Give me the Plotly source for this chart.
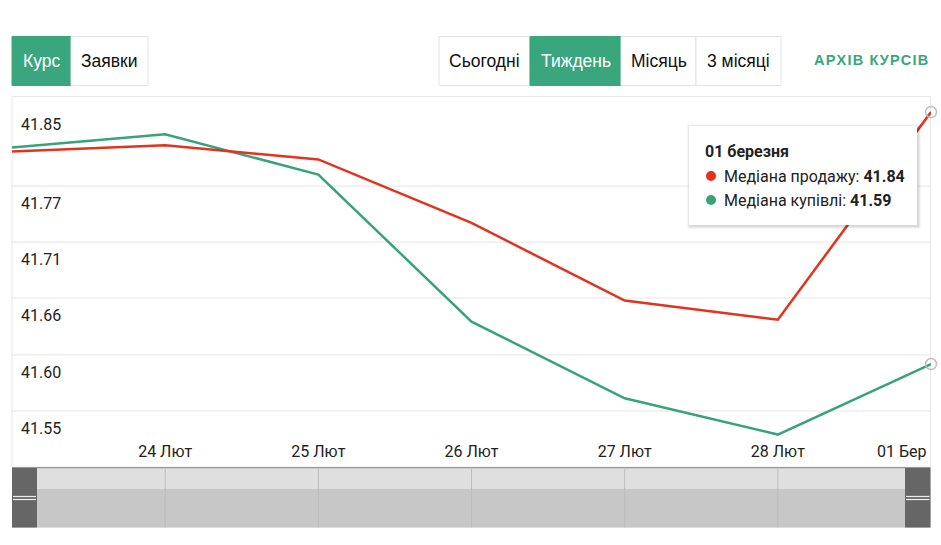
import plotly.graph_objects as go

# ---------------- data ----------------
dates = ["2025-02-23", "2025-02-24", "2025-02-25", "2025-02-26",
         "2025-02-27", "2025-02-28", "2025-03-01"]
sell_median = [41.801, 41.807, 41.793, 41.730, 41.653, 41.634, 41.84]
buy_median = [41.805, 41.818, 41.778, 41.632, 41.556, 41.520, 41.59]
sell_name = "Медіана продажу"
buy_name = "Медіана купівлі"

y_tick_vals = [41.5434, 41.599, 41.6555, 41.711, 41.7666, 41.845]
y_tick_text = ["41.55", "41.60", "41.66", "41.71", "41.77", "41.85"]
x_tick_vals = dates[1:]
x_tick_text = ["24 Лют", "25 Лют", "26 Лют", "27 Лют", "28 Лют", "01 Бер"]
tooltip_title = "01 березня"

left_tabs = ["Курс", "Заявки"]
period_tabs = ["Сьогодні", "Тиждень", "Місяць", "3 місяці"]
archive_text = "АРХІВ КУРСІВ"

# ---------------- style ----------------
W, H = 941, 545
RED = "#e2331d"
GREEN = "#37a37b"
BTN_GREEN = "#3aa67d"
GRID = "#e6e6e6"
TXT = "#222222"
FS = 16


def px(x):
    return x / W


def py(y):
    return 1 - y / H


fig = go.Figure()
fig.add_trace(go.Scatter(x=dates, y=buy_median, mode="lines", name=buy_name,
                         line=dict(color=GREEN, width=2.5), hoverinfo="skip"))
fig.add_trace(go.Scatter(x=dates, y=sell_median, mode="lines", name=sell_name,
                         line=dict(color=RED, width=2.5), hoverinfo="skip"))
# hover markers on the last point
fig.add_trace(go.Scatter(x=[dates[-1], dates[-1]], y=[sell_median[-1], buy_median[-1]],
                         mode="markers", hoverinfo="skip", cliponaxis=False,
                         marker=dict(symbol="circle-open", size=11, color="#bdbdbd",
                                     line=dict(color="#bdbdbd", width=1.5))))

shapes = []
ann = []

# chart border
shapes.append(dict(type="rect", xref="paper", yref="paper", x0=px(12), x1=px(930.5),
                   y0=py(467), y1=py(96.5), line=dict(color="#e8e8e8", width=1),
                   fillcolor="rgba(0,0,0,0)", layer="below"))
# grid lines (the top tick has no line)
for v in y_tick_vals[:-1]:
    shapes.append(dict(type="line", xref="paper", yref="y", x0=px(12), x1=px(930.5),
                       y0=v, y1=v, line=dict(color=GRID, width=1), layer="below"))

# ---------------- navigator ----------------
nav_top, nav_mid, nav_bot = 469, 489, 527.5
shapes.append(dict(type="rect", xref="paper", yref="paper", x0=px(12), x1=px(930.5),
                   y0=py(nav_mid), y1=py(nav_top), fillcolor="#dfdfdf", line=dict(width=0)))
shapes.append(dict(type="rect", xref="paper", yref="paper", x0=px(12), x1=px(930.5),
                   y0=py(nav_bot), y1=py(nav_mid), fillcolor="#c6c7c6", line=dict(width=0)))
shapes.append(dict(type="line", xref="paper", yref="paper", x0=px(12), x1=px(930.5),
                   y0=py(467.8), y1=py(467.8), line=dict(color="#999999", width=1.5)))
shapes.append(dict(type="line", xref="paper", yref="paper", x0=px(12), x1=px(930.5),
                   y0=py(527.5), y1=py(527.5), line=dict(color="#dddddd", width=1)))
for d in dates[1:-1]:
    shapes.append(dict(type="line", xref="x", yref="paper", x0=d, x1=d,
                       y0=py(nav_bot), y1=py(nav_top), line=dict(color="#bdbdbd", width=1)))
for hx0, hx1 in [(12, 37), (905, 930.5)]:
    shapes.append(dict(type="rect", xref="paper", yref="paper", x0=px(hx0), x1=px(hx1),
                       y0=py(nav_bot), y1=py(468), fillcolor="#666666", line=dict(width=0)))
    for ly in (496.5, 499.5):
        shapes.append(dict(type="line", xref="paper", yref="paper", x0=px(hx0 + 1),
                           x1=px(hx1 - 1), y0=py(ly), y1=py(ly),
                           line=dict(color="#eeeeee", width=1.2)))

# ---------------- tabs ----------------
def tab(x0, x1, label, active):
    shapes.append(dict(type="rect", xref="paper", yref="paper", x0=px(x0), x1=px(x1),
                       y0=py(85.5), y1=py(36.5),
                       fillcolor=BTN_GREEN if active else "white",
                       line=dict(color=BTN_GREEN if active else "#e3e3e3", width=1)))
    ann.append(dict(xref="paper", yref="paper", x=px((x0 + x1) / 2), y=py(61),
                    text=label, showarrow=False, xanchor="center", yanchor="middle",
                    font=dict(family="Liberation Sans, Arial", size=17.5,
                              color="white" if active else "#111111")))


tab(12, 71, left_tabs[0], True)
tab(71, 148, left_tabs[1], False)
edges = [439, 530, 621, 696, 781]
for i, lab in enumerate(period_tabs):
    tab(edges[i], edges[i + 1], lab, i == 1)

spaced = "\u200a".join(archive_text)
ann.append(dict(xref="paper", yref="paper", x=px(930), y=py(60.5), text="<b>" + spaced + "</b>",
                showarrow=False, xanchor="right", yanchor="middle",
                font=dict(family="Liberation Sans, Arial", size=14.5, color=BTN_GREEN)))

# last x label (right-aligned at the plot edge)
ann.append(dict(xref="x", yref="paper", x=dates[-1], y=py(451.5), text=x_tick_text[-1],
                showarrow=False, xanchor="right", yanchor="middle", xshift=-2,
                font=dict(family="Roboto", size=FS, color=TXT)))

# ---------------- tooltip ----------------
tx0, tx1, ty0, ty1 = 689, 917, 126, 225
for k, a in [(3, 0.03), (2, 0.05), (1, 0.07)]:
    shapes.append(dict(type="rect", xref="paper", yref="paper", x0=px(tx0 - k + 1),
                       x1=px(tx1 + k + 1), y0=py(ty1 + k + 1), y1=py(ty0 - k + 1),
                       fillcolor="rgba(0,0,0,%s)" % a, line=dict(width=0)))
shapes.append(dict(type="rect", xref="paper", yref="paper", x0=px(tx0), x1=px(tx1),
                   y0=py(ty1), y1=py(ty0), fillcolor="white", line=dict(width=0)))
ann.append(dict(xref="paper", yref="paper", x=px(703), y=py(151), text="<b>%s</b>" % tooltip_title,
                showarrow=False, xanchor="left", yanchor="middle",
                font=dict(family="Roboto", size=FS, color="#222222")))
for yy, col, name, val in [(176, RED, sell_name, sell_median[-1]),
                           (200, GREEN, buy_name, buy_median[-1])]:
    shapes.append(dict(type="circle", xref="paper", yref="paper", x0=px(706), x1=px(716),
                       y0=py(yy + 5), y1=py(yy - 5), fillcolor=col, line=dict(width=0)))
    ann.append(dict(xref="paper", yref="paper", x=px(722), y=py(yy),
                    text="%s: <b>%.2f</b>" % (name, val),
                    showarrow=False, xanchor="left", yanchor="middle",
                    font=dict(family="Roboto", size=FS, color="#222222")))

fig.update_layout(
    width=W, height=H, margin=dict(l=0, r=0, t=0, b=0),
    paper_bgcolor="white", plot_bgcolor="white", showlegend=False,
    shapes=shapes, annotations=ann,
    xaxis=dict(domain=[px(12), px(931)], range=[dates[0], dates[-1]], type="date",
               tickvals=x_tick_vals[:-1], ticktext=x_tick_text[:-1],
               showgrid=False, zeroline=False, showline=False, ticks="",
               tickfont=dict(family="Roboto", size=FS, color=TXT), fixedrange=True),
    yaxis=dict(domain=[py(440), py(97)], range=[41.5146, 41.855],
               tickvals=y_tick_vals, ticktext=y_tick_text, showgrid=False,
               zeroline=False, showline=False, ticks="",
               ticklabelposition="inside", ticklabelstandoff=6, ticklabelshift=17,
               tickfont=dict(family="Roboto", size=FS, color=TXT), fixedrange=True),
)

fig.write_html("out.html", config={"displayModeBar": False},
               post_script="document.body.style.margin='0';document.body.style.overflow='hidden';")
